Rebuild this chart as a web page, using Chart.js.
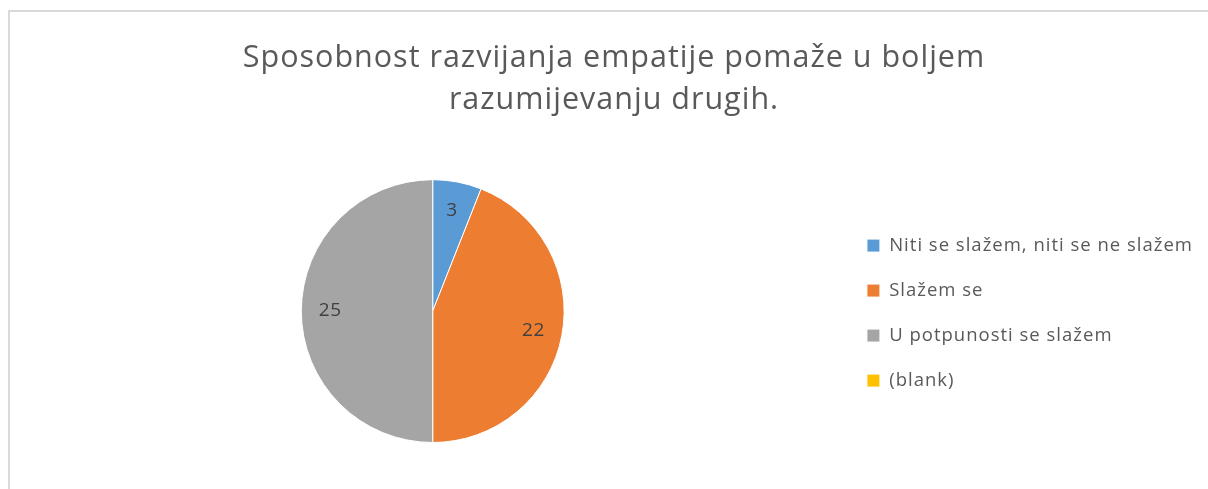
<!DOCTYPE html>
<html>
<head>
<meta charset="utf-8">
<script src="https://cdn.jsdelivr.net/npm/chart.js@4/dist/chart.umd.min.js"></script>
<style>
  html, body { margin: 0; padding: 0; background: #fff; overflow: hidden; }
  #frame { position: absolute; left: 8px; top: 10px; width: 1400px; height: 700px; border: 2px solid #d9d9d9; box-sizing: border-box; }
  #wrap { position: absolute; left: 0; top: 0; width: 1208px; height: 489px; }
</style>
</head>
<body>
<div id="frame"></div>
<div id="wrap"><canvas id="chart"></canvas></div>
<script>
// Podaci ankete
const categories = ['Niti se slažem, niti se ne slažem', 'Slažem se', 'U potpunosti se slažem', '(blank)'];
const counts = [3, 22, 25, 0];
const sliceColors = ['#5B9BD5', '#ED7D31', '#A5A5A5', '#FFC000'];
const titleLines = ['Sposobnost razvijanja empatije pomaže u boljem', 'razumijevanju drugih.'];

const FONT = '"Open Sans", "Noto Sans", sans-serif';
const TEXT = '#595959';

// razmak slova kao u Excelu (naslov i legenda)
const spacing = {
    id: 'spacing',
    beforeLayout(chart) { chart.ctx.letterSpacing = '1px'; },
    beforeDraw(chart) { chart.ctx.letterSpacing = '1px'; }
};

// oznake vrijednosti unutar kriški
const sliceLabels = {
    id: 'sliceLabels',
    afterDatasetsDraw(chart) {
        const ctx = chart.ctx;
        const meta = chart.getDatasetMeta(0);
        ctx.save();
        ctx.letterSpacing = '0.5px';
        ctx.font = '19px ' + FONT;
        ctx.fillStyle = '#404040';
        ctx.textAlign = 'center';
        ctx.textBaseline = 'middle';
        meta.data.forEach((arc, i) => {
            const v = counts[i];
            if (!v) return;
            const { x, y, startAngle, endAngle, outerRadius } = arc.getProps(['x', 'y', 'startAngle', 'endAngle', 'outerRadius'], true);
            const mid = (startAngle + endAngle) / 2;
            const r = outerRadius * 0.78;
            ctx.fillText(String(v), x + Math.cos(mid) * r, y + Math.sin(mid) * r);
        });
        ctx.restore();
    }
};

const ctx = document.getElementById('chart').getContext('2d');
new Chart(ctx, {
    type: 'pie',
    data: {
        labels: categories,
        datasets: [{
            data: counts,
            backgroundColor: sliceColors,
            borderColor: '#ffffff',
            borderWidth: 1
        }]
    },
    options: {
        responsive: true,
        maintainAspectRatio: false,
        animation: false,
        layout: { padding: { top: 22, bottom: 46, left: 25, right: 5 } },
        plugins: {
            title: {
                display: true,
                text: titleLines,
                color: TEXT,
                font: { family: FONT, size: 30.5, weight: 'normal', lineHeight: 1.38 },
                padding: { top: 15, bottom: 58 }
            },
            legend: {
                position: 'right',
                align: 'center',
                fullSize: false,
                title: { display: true, text: '', font: { size: 1, lineHeight: 1 }, padding: { top: 3, bottom: 0 } },
                labels: {
                    color: TEXT,
                    font: { family: FONT, size: 18.5 },
                    boxWidth: 13,
                    boxHeight: 13,
                    padding: 26.5
                }
            },
            tooltip: { enabled: false }
        }
    },
    plugins: [spacing, sliceLabels]
});
</script>
</body>
</html>
